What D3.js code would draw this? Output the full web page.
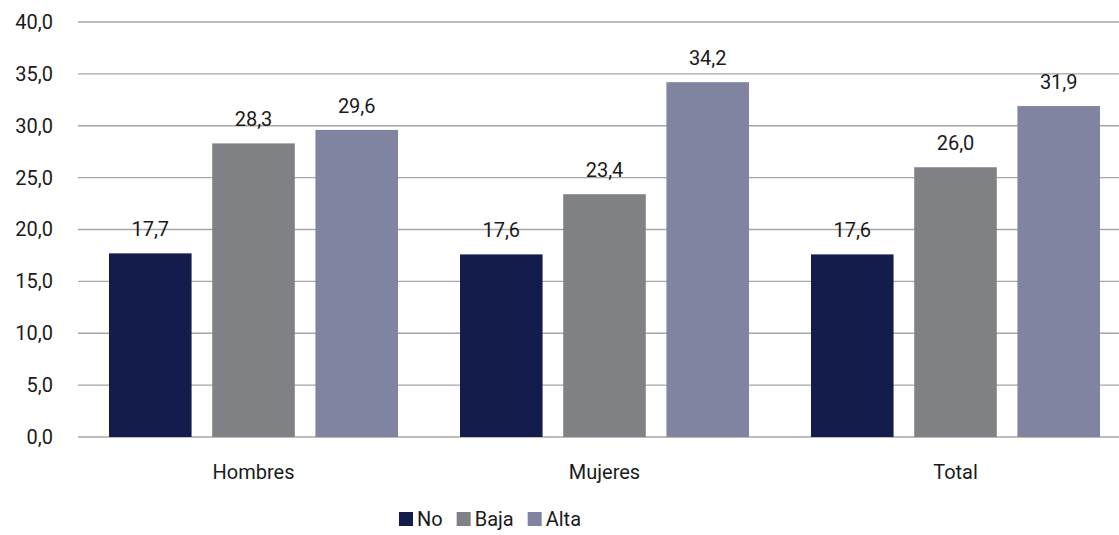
<!DOCTYPE html>
<html>
<head>
<meta charset="utf-8">
<script src="https://cdn.jsdelivr.net/npm/d3@7"></script>
<style>
  body { margin: 0; background: #fff; }
  text { font-family: Roboto, "DejaVu Sans", sans-serif; fill: #1a1a1a; }
</style>
</head>
<body>
<div id="chart"></div>
<script>
// data
var categories = ["Hombres", "Mujeres", "Total"];
var seriesNames = ["No", "Baja", "Alta"];
var seriesColors = ["#141c4c", "#808184", "#8084a0"];
var valuesNo = [17.7, 17.6, 17.6];
var valuesBaja = [28.3, 23.4, 26.0];
var valuesAlta = [29.6, 34.2, 31.9];
var yTicks = [0, 5, 10, 15, 20, 25, 30, 35, 40];

var width = 1119, height = 535;
var fontSize = "20px";
// plot runs a little past the right edge (picture is cropped there)
var plotLeft = 78, plotRight = 1131, plotTop = 22, plotBottom = 437;

var series = [valuesNo, valuesBaja, valuesAlta];
var rows = categories.map(function (c, i) {
  return { cat: c, vals: series.map(function (s, j) { return { key: seriesNames[j], v: s[i], j: j }; }) };
});

var svg = d3.select("#chart").append("svg")
  .attr("width", width)
  .attr("height", height);

var x0 = d3.scaleBand()
  .domain(categories)
  .range([plotLeft, plotRight]);

var x1 = d3.scaleBand()
  .domain(seriesNames)
  .range([31, x0.bandwidth() - 31])
  .paddingInner(0.2);

var y = d3.scaleLinear()
  .domain([0, 40])
  .range([plotBottom, plotTop]);

var fmt = function (d) { return d3.format(".1f")(d).replace(".", ","); };

// gridlines
svg.append("g")
  .selectAll("line")
  .data(yTicks)
  .enter().append("line")
  .attr("x1", plotLeft)
  .attr("x2", width)
  .attr("y1", function (d) { return y(d); })
  .attr("y2", function (d) { return y(d); })
  .attr("stroke", "#a6a6a6")
  .attr("stroke-width", 1.3);

// y axis labels
var yAxis = d3.axisLeft(y).tickValues(yTicks).tickFormat(fmt).tickSize(0).tickPadding(0);
svg.append("g")
  .attr("transform", "translate(" + (plotLeft - 25) + ",0)")
  .call(yAxis)
  .call(function (g) { g.select(".domain").remove(); })
  .selectAll("text")
  .style("font-family", "Roboto, sans-serif")
  .style("font-size", fontSize)
  .attr("fill", "#1a1a1a");

// bars
var groups = svg.append("g")
  .selectAll("g")
  .data(rows)
  .enter().append("g")
  .attr("transform", function (d) { return "translate(" + x0(d.cat) + ",0)"; });

groups.selectAll("rect")
  .data(function (d) { return d.vals; })
  .enter().append("rect")
  .attr("x", function (d) { return x1(d.key); })
  .attr("y", function (d) { return y(d.v); })
  .attr("width", x1.bandwidth())
  .attr("height", function (d) { return y(0) - y(d.v); })
  .attr("fill", function (d) { return seriesColors[d.j]; });

groups.selectAll("text")
  .data(function (d) { return d.vals; })
  .enter().append("text")
  .attr("x", function (d) { return x1(d.key) + x1.bandwidth() / 2; })
  .attr("y", function (d) { return y(d.v) - 17; })
  .attr("text-anchor", "middle")
  .style("font-size", fontSize)
  .text(function (d) { return fmt(d.v); });

// category labels
var xAxis = d3.axisBottom(x0).tickSize(0).tickPadding(0);
svg.append("g")
  .attr("transform", "translate(0," + (y(0) + 28) + ")")
  .call(xAxis)
  .call(function (g) { g.select(".domain").remove(); })
  .selectAll("text")
  .style("font-family", "Roboto, sans-serif")
  .style("font-size", fontSize)
  .attr("fill", "#1a1a1a");

// legend, laid out from measured text widths and centred
var legendG = svg.append("g");
var legend = legendG.selectAll("g")
  .data(seriesNames)
  .enter().append("g");

legend.append("rect")
  .attr("y", -14)
  .attr("width", 14)
  .attr("height", 14)
  .attr("fill", function (d, i) { return seriesColors[i]; });

legend.append("text")
  .attr("x", 18)
  .style("font-size", fontSize)
  .text(function (d) { return d; });

var cursor = 0;
legend.each(function () {
  var g = d3.select(this);
  g.attr("transform", "translate(" + cursor + ",0)");
  cursor += 18 + g.select("text").node().getComputedTextLength() + 14;
});
cursor -= 14;
legendG.attr("transform", "translate(" + (490 - cursor / 2) + ",526)");
</script>
</body>
</html>
